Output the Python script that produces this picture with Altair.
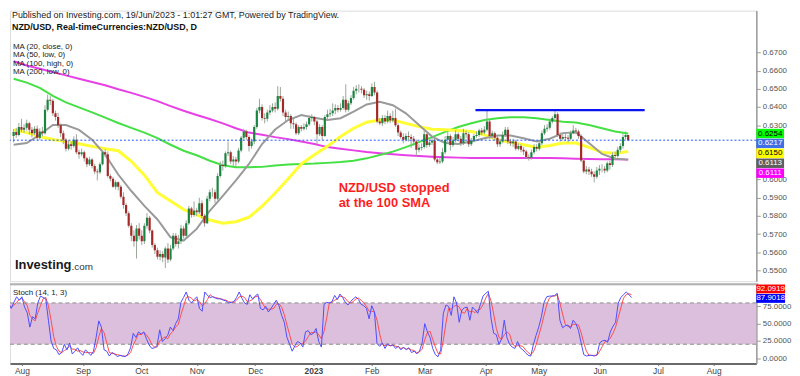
import altair as alt
import pandas as pd

# ---------------- data ----------------
open_ = [
    .6240,.6262,.6245,.6290,.6275,.6285,.6310,.6275,.6255,.6280,
    .6230,.6265,.6255,.6385,.6440,.6435,.6365,.6345,.6300,.6255,
    .6220,.6170,.6195,.6185,.6220,.6150,.6140,.6150,.6118,.6085,
    .6110,.6075,.6045,.6040,.6085,.6150,.6140,.6020,.6005,.5960,
    .5985,.5960,.5905,.5860,.5815,.5745,.5690,.5660,.5730,.5690,
    .5660,.5745,.5790,.5720,.5640,.5610,.5575,.5590,.5570,.5620,
    .5560,.5620,.5690,.5645,.5660,.5730,.5690,.5760,.5840,.5805,
    .5830,.5820,.5870,.5800,.5760,.5895,.5930,.5930,.5895,.6020,
    .6080,.6075,.6145,.6150,.6100,.6110,.6100,.6160,.6230,.6265,
    .6235,.6185,.6210,.6290,.6380,.6400,.6340,.6335,.6370,.6380,
    .6400,.6390,.6460,.6445,.6370,.6345,.6350,.6310,.6305,.6255,
    .6290,.6280,.6290,.6305,.6340,.6345,.6320,.6250,.6290,.6240,
    .6345,.6360,.6365,.6380,.6395,.6385,.6395,.6440,.6385,.6420,
    .6450,.6490,.6500,.6500,.6495,.6465,.6470,.6460,.6510,.6480,
    .6320,.6310,.6340,.6320,.6350,.6325,.6340,.6300,.6260,.6235,
    .6220,.6240,.6235,.6225,.6210,.6165,.6175,.6180,.6250,.6190,
    .6205,.6215,.6110,.6095,.6100,.6150,.6220,.6240,.6190,.6215,
    .6250,.6225,.6200,.6255,.6250,.6195,.6215,.6240,.6245,.6270,
    .6260,.6275,.6320,.6240,.6255,.6230,.6195,.6210,.6245,.6275,
    .6210,.6200,.6210,.6170,.6185,.6165,.6155,.6125,.6120,.6150,
    .6180,.6170,.6200,.6255,.6280,.6285,.6320,.6340,.6360,.6245,
    .6225,.6235,.6230,.6225,.6255,.6270,.6265,.6240,.6105,.6045,
    .6055,.6045,.6030,.6015,.6050,.6060,.6060,.6050,.6090,.6080,
    .6135,.6130,.6165,.6185,.6235,.6245,
]
close = [
    .6262,.6245,.6290,.6275,.6285,.6310,.6275,.6255,.6280,.6230,
    .6265,.6255,.6385,.6440,.6435,.6365,.6345,.6300,.6255,.6220,
    .6170,.6195,.6185,.6220,.6150,.6140,.6150,.6118,.6085,.6110,
    .6075,.6045,.6040,.6085,.6150,.6140,.6020,.6005,.5960,.5985,
    .5960,.5905,.5860,.5815,.5745,.5690,.5660,.5730,.5690,.5660,
    .5745,.5790,.5720,.5640,.5610,.5575,.5590,.5570,.5620,.5560,
    .5620,.5690,.5645,.5660,.5730,.5690,.5760,.5840,.5805,.5830,
    .5820,.5870,.5800,.5760,.5895,.5930,.5930,.5895,.6020,.6080,
    .6075,.6145,.6150,.6100,.6110,.6100,.6160,.6230,.6265,.6235,
    .6185,.6210,.6290,.6380,.6400,.6340,.6335,.6370,.6380,.6400,
    .6390,.6460,.6445,.6370,.6345,.6350,.6310,.6305,.6255,.6290,
    .6280,.6290,.6305,.6340,.6345,.6320,.6250,.6290,.6240,.6345,
    .6360,.6365,.6380,.6395,.6385,.6395,.6440,.6385,.6420,.6450,
    .6490,.6500,.6500,.6495,.6465,.6470,.6460,.6510,.6480,.6320,
    .6310,.6340,.6320,.6350,.6325,.6340,.6300,.6260,.6235,.6220,
    .6240,.6235,.6225,.6210,.6165,.6175,.6180,.6250,.6190,.6205,
    .6215,.6110,.6095,.6100,.6150,.6220,.6240,.6190,.6215,.6250,
    .6225,.6200,.6255,.6250,.6195,.6215,.6240,.6245,.6270,.6260,
    .6275,.6320,.6240,.6255,.6230,.6195,.6210,.6245,.6275,.6210,
    .6200,.6210,.6170,.6185,.6165,.6155,.6125,.6120,.6150,.6180,
    .6170,.6200,.6255,.6280,.6285,.6320,.6340,.6360,.6245,.6225,
    .6235,.6230,.6225,.6255,.6270,.6265,.6240,.6105,.6045,.6055,
    .6045,.6030,.6015,.6050,.6060,.6060,.6050,.6090,.6080,.6135,
    .6130,.6165,.6185,.6235,.6245,.6217,
]
high = [
    .6278,.6285,.6312,.6335,.6305,.6330,.6318,.6290,.6295,.6298,
    .6282,.6290,.6410,.6468,.6460,.6445,.6380,.6368,.6310,.6270,
    .6228,.6215,.6210,.6238,.6250,.6165,.6170,.6160,.6125,.6125,
    .6118,.6088,.6060,.6095,.6160,.6168,.6155,.6030,.6015,.5995,
    .5990,.5970,.5930,.5870,.5825,.5760,.5720,.5750,.5760,.5720,
    .5760,.5815,.5800,.5725,.5650,.5625,.5610,.5605,.5630,.5650,
    .5640,.5705,.5705,.5695,.5750,.5745,.5775,.5855,.5850,.5880,
    .5845,.5900,.5885,.5810,.5910,.5945,.5955,.5945,.6035,.6100,
    .6105,.6155,.6210,.6160,.6130,.6125,.6175,.6240,.6280,.6275,
    .6245,.6225,.6300,.6395,.6445,.6415,.6365,.6385,.6410,.6420,
    .6425,.6515,.6510,.6460,.6385,.6375,.6360,.6335,.6315,.6300,
    .6300,.6310,.6320,.6355,.6360,.6350,.6330,.6305,.6300,.6355,
    .6385,.6390,.6420,.6415,.6410,.6420,.6460,.6525,.6435,.6465,
    .6510,.6520,.6525,.6515,.6505,.6490,.6485,.6530,.6538,.6490,
    .6340,.6355,.6355,.6380,.6365,.6380,.6390,.6310,.6270,.6255,
    .6255,.6265,.6250,.6240,.6220,.6195,.6200,.6275,.6255,.6220,
    .6230,.6225,.6120,.6120,.6175,.6240,.6265,.6250,.6235,.6270,
    .6260,.6240,.6280,.6270,.6260,.6230,.6250,.6265,.6280,.6285,
    .6295,.6385,.6330,.6270,.6265,.6240,.6225,.6265,.6290,.6290,
    .6225,.6225,.6220,.6200,.6195,.6180,.6165,.6140,.6165,.6195,
    .6195,.6215,.6270,.6300,.6305,.6335,.6350,.6385,.6370,.6260,
    .6250,.6260,.6245,.6270,.6300,.6285,.6275,.6250,.6115,.6075,
    .6070,.6060,.6045,.6070,.6080,.6085,.6075,.6100,.6105,.6150,
    .6155,.6180,.6200,.6250,.6265,.6248,
]
low = [
    .6205,.6230,.6238,.6262,.6258,.6270,.6250,.6232,.6245,.6215,
    .6218,.6238,.6248,.6375,.6410,.6350,.6325,.6285,.6235,.6195,
    .6155,.6160,.6165,.6175,.6140,.6115,.6128,.6100,.6068,.6075,
    .6062,.6030,.5995,.6030,.6078,.6125,.6010,.5990,.5955,.5945,
    .5940,.5895,.5840,.5800,.5735,.5660,.5630,.5565,.5670,.5640,
    .5645,.5730,.5705,.5625,.5590,.5560,.5555,.5545,.5512,.5540,
    .5550,.5610,.5630,.5620,.5645,.5675,.5680,.5750,.5790,.5795,
    .5800,.5810,.5785,.5740,.5755,.5880,.5905,.5870,.5885,.6010,
    .6050,.6065,.6130,.6085,.6075,.6070,.6090,.6150,.6220,.6220,
    .6155,.6170,.6195,.6280,.6365,.6325,.6310,.6320,.6355,.6370,
    .6370,.6380,.6430,.6350,.6320,.6325,.6280,.6280,.6245,.6245,
    .6265,.6270,.6275,.6295,.6320,.6300,.6195,.6240,.6215,.6235,
    .6330,.6345,.6350,.6360,.6370,.6375,.6385,.6370,.6375,.6410,
    .6440,.6470,.6480,.6475,.6450,.6440,.6435,.6455,.6465,.6310,
    .6300,.6295,.6305,.6310,.6310,.6315,.6290,.6240,.6225,.6200,
    .6210,.6210,.6175,.6185,.6130,.6150,.6160,.6170,.6175,.6180,
    .6190,.6100,.6085,.6085,.6090,.6140,.6205,.6160,.6180,.6205,
    .6210,.6185,.6190,.6230,.6180,.6185,.6205,.6230,.6235,.6245,
    .6250,.6265,.6225,.6225,.6215,.6180,.6180,.6200,.6235,.6195,
    .6185,.6180,.6160,.6160,.6150,.6135,.6115,.6105,.6110,.6140,
    .6155,.6160,.6190,.6245,.6265,.6275,.6310,.6330,.6235,.6210,
    .6215,.6215,.6205,.6215,.6250,.6250,.6225,.6095,.6035,.6030,
    .6025,.6015,.5985,.6005,.6025,.6040,.6035,.6040,.6055,.6070,
    .6110,.6120,.6150,.6170,.6220,.6212,
]

# moving averages read every 5 bars
ma_bars = list(range(0, 236, 5))
ma20 = [.6192,.6201,.6247,.6301,.6301,.6274,.6219,.6137,.6028,.5937,
        .5855,.5780,.5682,.5664,.5728,.5828,.5910,.5995,.6086,.6196,
        .6276,.6328,.6356,.6341,.6328,.6338,.6374,.6414,.6429,.6410,
        .6365,.6301,.6237,.6201,.6196,.6210,.6228,.6243,.6243,.6228,
        .6210,.6225,.6256,.6261,.6201,.6141,.6115,.6110]
ma50 = [.6274,.6259,.6237,.6221,.6210,.6197,.6183,.6170,.6159,.6101,
        .6024,.5928,.5882,.5835,.5806,.5777,.5760,.5768,.5793,.5853,
        .5926,.6004,.6086,.6137,.6183,.6237,.6283,.6316,.6328,.6328,
        .6310,.6292,.6277,.6274,.6270,.6265,.6247,.6219,.6205,.6192,
        .6177,.6188,.6201,.6201,.6177,.6150,.6145,.6155]
ma100 = [.6556,.6534,.6505,.6461,.6425,.6398,.6370,.6341,.6312,.6285,
         .6259,.6228,.6192,.6159,.6134,.6104,.6079,.6068,.6068,.6070,
         .6077,.6083,.6086,.6088,.6092,.6097,.6104,.6117,.6135,.6154,
         .6179,.6206,.6234,.6263,.6290,.6310,.6328,.6338,.6343,.6343,
         .6338,.6328,.6319,.6314,.6301,.6283,.6265,.6254]
ma200 = [.6652,.6629,.6611,.6592,.6574,.6556,.6538,.6520,.6498,.6478,
         .6456,.6432,.6405,.6379,.6356,.6334,.6310,.6283,.6259,.6247,
         .6234,.6223,.6210,.6196,.6179,.6170,.6161,.6152,.6145,.6139,
         .6134,.6130,.6126,.6123,.6121,.6119,.6119,.6119,.6119,.6119,
         .6119,.6119,.6117,.6115,.6114,.6112,.6112,.6110]

stoch_k = [
    79,72,81,89,84,89,74,66,45,60, 57,80,90,88,86,55,25,14,12,5,
    8,20,12,22,6,10,15,8,4,12, 8,4,10,30,54,45,12,10,3,8,
    6,2,4,3,2,6,15,36,30,38, 35,38,28,19,14,15,18,41,24,28,
    33,45,40,50,57,81,88,96,84,80, 85,89,72,68,96,91,88,89,87,86,
    86,84,83,80,81,82,88,96,87,80, 78,92,86,90,93,72,70,75,67,72,
    78,84,76,62,52,30,20,10,18,24, 22,16,38,40,34,36,43,24,16,78,
    81,80,82,91,85,93,88,81,77,82, 86,89,85,78,76,72,57,76,67,21,
    17,22,14,21,18,19,14,17,12,16, 12,15,8,10,6,10,22,50,38,30,
    14,5,2,12,65,77,75,62,89,80, 52,70,73,74,55,74,70,65,78,90,
    94,97,58,36,34,20,28,55,30,20, 16,14,24,15,12,8,4,3,20,33,
    45,60,81,89,90,90,91,94,55,44, 47,48,43,55,50,40,22,5,3,4,
    4,3,5,22,25,26,23,38,46,52, 80,88,92,96,92.4,87.9018,
]
stoch_d = [
    76,75,77,81,85,87,82,76,62,57, 54,66,76,86,88,76,55,31,17,10,
    8,11,13,18,13,13,10,11,9,8, 8,8,7,15,31,43,37,22,8,7,
    6,5,4,3,3,4,8,19,27,35, 34,37,34,28,20,16,16,25,28,31,
    28,35,39,45,49,63,75,88,89,87, 83,85,82,76,79,85,92,89,88,87,
    86,85,84,82,81,81,84,89,90,88, 82,83,85,89,90,85,78,72,71,71,
    72,78,79,74,63,48,34,20,16,17, 21,21,25,31,37,37,38,34,28,39,
    58,80,81,84,86,90,89,87,82,80, 82,86,87,84,80,75,68,68,67,55,
    35,20,18,19,18,19,17,17,14,15, 13,14,12,11,8,9,13,27,37,39,
    27,16,7,6,26,51,72,71,75,77, 74,67,65,72,67,68,66,70,71,78,
    87,94,83,64,43,30,27,34,38,35, 22,17,18,18,17,12,8,5,9,19,
    33,46,62,77,87,90,90,92,80,64, 49,46,46,49,49,48,37,22,10,4,
    4,4,4,10,17,24,25,29,36,45, 59,73,87,92,93.5,92.0919,
]

month_ticks = [5, 28, 50, 71, 93, 115, 137, 157, 180, 200, 223, 245, 266]
month_labels = ["Aug", "Sep", "Oct", "Nov", "Dec", "2023", "Feb", "Mar", "Apr",
                "May", "Jun", "Jul", "Aug"]
price_ticks = [0.55, 0.56, 0.57, 0.58, 0.59, 0.60, 0.61, 0.62, 0.63, 0.64,
               0.65, 0.66, 0.67]
hidden_price_ticks = [0.61, 0.62]   # covered by the value tags in the reference
stoch_ticks = [0, 25, 50, 75]

last_price = 0.6217
resistance = 0.6383
resistance_bars = [176.6, 241.3]

tag_values = [0.6254, 0.6217, 0.6150, 0.6113, 0.6111]
tag_pos = [0.62538, 0.61992, 0.61446, 0.60900, 0.60353]
tag_fill = ["#00ff00", "#3f6fe6", "#ffff00", "#5f5f5f", "#ff00ff"]
tag_text = ["#000000", "#ffffff", "#000000", "#ffffff", "#ffffff"]

stoch_tag_values = [92.0919, 87.9018]
stoch_tag_pos = [100.4, 86.6]
stoch_tag_fill = ["#ff0000", "#0000ff"]

header1 = "Published on Investing.com, 19/Jun/2023 - 1:01:27 GMT, Powered by TradingView."
header2 = "NZD/USD, Real-timeCurrencies:NZD/USD, D"
ma_legend = ["MA (20, close, 0)", "MA (50, low, 0)", "MA (100, high, 0)", "MA (200, low, 0)"]
annotation = ["NZD/USD stopped", "at the 100 SMA"]
annotation_bar = 124.3
annotation_price = [0.5955, 0.5873]

# ---------------- frames ----------------
N = len(close)
assert len(open_) == N and len(high) == N and len(low) == N
assert len(stoch_k) == N and len(stoch_d) == N
assert len(ma20) == len(ma_bars) == len(ma50) == len(ma100) == len(ma200)

candles = pd.DataFrame({"bar": list(range(N)), "o": open_, "h": high, "l": low, "c": close})
ma_df = pd.DataFrame({"bar": ma_bars, "ma20": ma20, "ma50": ma50, "ma100": ma100, "ma200": ma200})
stoch_df = pd.DataFrame({"bar": list(range(N)), "k": stoch_k, "d": stoch_d})

W = 753
H_MAIN = 273
H_STOCH = 80
FONT = "Liberation Sans"

xscale = alt.Scale(domain=[0.5, 282.1], nice=False, zero=False)
yscale = alt.Scale(domain=[0.5440, 0.6931], nice=False, zero=False)
sscale = alt.Scale(domain=[-7.8, 107.3], nice=False, zero=False)

hide_test = " || ".join(f"abs(datum.value - {v}) < 0.00001" for v in hidden_price_ticks)
price_axis = alt.Axis(orient="right", values=price_ticks, grid=False,
                      labelExpr=f"({hide_test}) ? '' : format(datum.value, '.4f')",
                      domainColor="#9a9a9a", domainWidth=1.5, tickColor="#9a9a9a",
                      tickSize=4, labelFontSize=8, labelColor="#555555",
                      labelPadding=2, title=None)
month_expr = ("[" + ",".join(f"'{m}'" for m in month_labels) + "][indexof([" +
              ",".join(str(t) for t in month_ticks) + "], datum.value)]")
time_axis = alt.Axis(values=month_ticks, labelExpr=month_expr, grid=False,
                     domainColor="#6a6a6a", domainWidth=2, tickColor="#6a6a6a",
                     tickSize=2, labelFontSize=8.5, labelColor="#444444",
                     labelPadding=1, title=None,
                     labelFontWeight={"condition": {"test": "datum.value == 115",
                                                    "value": "bold"},
                                      "value": "normal"})
stoch_axis = alt.Axis(orient="right", values=stoch_ticks, format=".4f", grid=False,
                      domainColor="#9a9a9a", domainWidth=1.5, tickColor="#9a9a9a",
                      tickSize=4, labelFontSize=8, labelColor="#555555",
                      labelPadding=2, title=None)


def XM(field="bar"):
    return alt.X(f"{field}:Q", scale=xscale, axis=None)


def YM(field):
    return alt.Y(f"{field}:Q", scale=yscale, axis=price_axis)


def XS(field="bar"):
    return alt.X(f"{field}:Q", scale=xscale, axis=time_axis)


def YS(field):
    return alt.Y(f"{field}:Q", scale=sscale, axis=stoch_axis)


def ma_line(col, color, width):
    return alt.Chart(ma_df).mark_line(color=color, strokeWidth=width, clip=True).encode(
        x=XM(), y=YM(col))


wicks = alt.Chart(candles).mark_rule(color="#9aa69a", strokeWidth=1, clip=True).encode(
    x=XM(), y=YM("l"), y2="h:Q")
bodies = alt.Chart(candles).mark_bar(size=2.2, clip=True).encode(
    x=XM(), y=YM("o"), y2="c:Q",
    color=alt.condition("datum.c >= datum.o", alt.value("#1a8540"), alt.value("#a52828")))

cur_line = alt.Chart(pd.DataFrame({"p": [last_price]})).mark_rule(
    color="#2255ff", strokeDash=[2, 2], strokeWidth=1).encode(y=YM("p"))

res_line = alt.Chart(pd.DataFrame({"b0": [resistance_bars[0]], "b1": [resistance_bars[1]],
                                   "p": [resistance]})).mark_rule(
    color="#0a14f0", strokeWidth=2.2).encode(x=XM("b0"), x2="b1:Q", y=YM("p"))

ann = alt.Chart(pd.DataFrame({"bar": [annotation_bar] * 2, "p": annotation_price,
                              "t": annotation})).mark_text(
    align="left", baseline="middle", fontSize=13, fontWeight="bold", color="#ff1e1e",
    font=FONT).encode(x=XM(), y=YM("p"), text="t:N")

hdr1 = alt.Chart(pd.DataFrame({"t": [header1]})).mark_text(
    align="left", baseline="top", fontSize=9, color="#222222", font=FONT).encode(
    x=alt.value(2), y=alt.value(0), text="t:N")
hdr2 = alt.Chart(pd.DataFrame({"t": [header2]})).mark_text(
    align="left", baseline="middle", fontSize=9, fontWeight="bold", color="#111111",
    font=FONT).encode(x=alt.value(2), y=alt.value(17), text="t:N")

legend_layers = []
for i, t in enumerate(ma_legend):
    legend_layers.append(alt.Chart(pd.DataFrame({"t": [t]})).mark_text(
        align="left", baseline="middle", fontSize=8, color="#222222", font=FONT).encode(
        x=alt.value(3), y=alt.value(36.5 + 8.5 * i), text="t:N"))

logo1 = alt.Chart(pd.DataFrame({"t": ["Investing"]})).mark_text(
    align="left", baseline="middle", fontSize=13, fontWeight="bold", color="#1a1a1a",
    font=FONT).encode(x=alt.value(5), y=alt.value(257), text="t:N")
logo2 = alt.Chart(pd.DataFrame({"t": [".com"]})).mark_text(
    align="left", baseline="middle", fontSize=10, color="#333333", font=FONT).encode(
    x=alt.value(62), y=alt.value(259), text="t:N")

tags = pd.DataFrame({"pos": tag_pos, "fill": tag_fill, "tc": tag_text,
                     "label": [f"{v:.4f}" for v in tag_values]})
tags["top"] = tags["pos"] + 0.0026
tags["bot"] = tags["pos"] - 0.0026
tag_rect = alt.Chart(tags).mark_rect().encode(
    x=alt.value(753), x2=alt.value(781), y=YM("top"), y2="bot:Q",
    color=alt.Color("fill:N", scale=None))
tag_txt = alt.Chart(tags).mark_text(fontSize=8, align="center", baseline="middle",
                                    font=FONT).encode(
    x=alt.value(767), y=YM("pos"), text="label:N", color=alt.Color("tc:N", scale=None))

main = alt.layer(
    ma_line("ma200", "#e640e6", 2),
    ma_line("ma100", "#44e044", 2),
    ma_line("ma50", "#ffff33", 3),
    ma_line("ma20", "#9a9a9a", 2),
    wicks, bodies, cur_line, res_line, ann, hdr1, hdr2, *legend_layers, logo1, logo2,
    tag_rect, tag_txt,
).properties(width=W, height=H_MAIN)

# ---------------- stochastic panel ----------------
band = alt.Chart(pd.DataFrame({"lo": [20], "hi": [80]})).mark_rect(color="#dcbfdc").encode(
    x=alt.value(0), x2=alt.value(W), y=YS("lo"), y2="hi:Q")
levels = alt.Chart(pd.DataFrame({"lv": [20, 80]})).mark_rule(
    color="#a8a8a8", strokeDash=[4, 3], strokeWidth=1.5).encode(y=YS("lv"))
k_line = alt.Chart(stoch_df).mark_line(color="#4d4dff", strokeWidth=1, clip=True).encode(
    x=XS(), y=YS("k"))
d_line = alt.Chart(stoch_df).mark_line(color="#ff4d4d", strokeWidth=1, clip=True).encode(
    x=XS(), y=YS("d"))
sep = alt.Chart(pd.DataFrame({"a": [0]})).mark_rule(color="#b0b0b0", strokeWidth=2).encode(
    x=alt.value(0), x2=alt.value(W + 2), y=alt.value(0))
stoch_title = alt.Chart(pd.DataFrame({"t": ["Stoch (14, 1, 3)"]})).mark_text(
    align="left", baseline="middle", fontSize=8, color="#222222", font=FONT).encode(
    x=alt.value(3), y=alt.value(9), text="t:N")

stags = pd.DataFrame({"pos": stoch_tag_pos, "fill": stoch_tag_fill,
                      "label": [f"{v:.4f}" for v in stoch_tag_values]})
stags["top"] = stags["pos"] + 6.4
stags["bot"] = stags["pos"] - 6.4
stag_rect = alt.Chart(stags).mark_rect().encode(
    x=alt.value(753), x2=alt.value(782), y=YS("top"), y2="bot:Q",
    color=alt.Color("fill:N", scale=None))
stag_txt = alt.Chart(stags).mark_text(fontSize=8, align="center", baseline="middle",
                                      color="#ffffff", font=FONT).encode(
    x=alt.value(767.5), y=YS("pos"), text="label:N")

stoch = alt.layer(band, levels, d_line, k_line, sep, stoch_title, stag_rect, stag_txt).properties(
    width=W, height=H_STOCH)

chart = alt.vconcat(main, stoch, spacing=0).properties(padding=0).configure_view(
    stroke=None).configure(font=FONT)

chart.save("out.html", embed_options={"renderer": "svg", "actions": False})
